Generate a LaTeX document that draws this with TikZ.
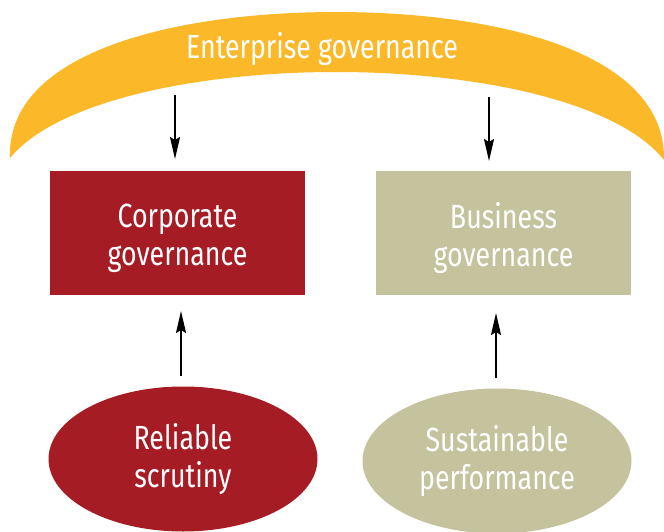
\documentclass[tikz,border=0pt]{standalone}
\usepackage{fontspec}
\setmainfont{Fira Sans}[FakeStretch=0.8]
\usetikzlibrary{shapes.geometric,arrows.meta}
\definecolor{egold}{HTML}{FBB829}
\definecolor{cred}{HTML}{A51C24}
\definecolor{khaki}{HTML}{C4C39D}
\tikzset{
  lbl/.style={text=white,font=\fontsize{33.5}{38}\selectfont,align=center},
  boxnode/.style={rectangle,minimum width=255pt,minimum height=124pt,inner sep=0pt},
  ovalnode/.style={lbl,ellipse,minimum width=269pt,minimum height=145pt,inner sep=0pt},
  arr/.style={line width=1.8pt,-{Stealth[length=22pt,width=10pt,inset=3pt]}}
}
\begin{document}
\begin{tikzpicture}[x=1pt,y=-1pt]
\useasboundingbox (0,0) rectangle (664,532);
% arc
\fill[egold] (10,158) .. controls (6,50) and (180,12) .. (336,12)
  .. controls (492,12) and (666,50) .. (664,160)
  .. controls (616,100) and (472,72) .. (336,72)
  .. controls (200,72) and (58,100) .. (10,158) -- cycle;
\node[lbl] (ent) at (322,49) {Enterprise governance};
\node[boxnode,fill=cred] (corp) at (177.5,233) {};
\node[lbl] (corpt) at ([yshift=-5pt]corp.center) {Corporate\\governance};
\node[boxnode,fill=khaki] (bus) at (503.5,233) {};
\node[lbl] (bust) at ([yshift=-5pt]bus.center) {Business\\governance};
\node[ovalnode,fill=cred] (rel) at (183,459) {Reliable\\scrutiny};
\node[ovalnode,fill=khaki] (sus) at (497,461) {Sustainable\\performance};
\coordinate (a1s) at (175,95);
\coordinate (a1e) at (175,159);
\coordinate (a2s) at (489,97);
\coordinate (a2e) at (489,161);
\coordinate (b1s) at (181,376);
\coordinate (b1e) at (181,311);
\coordinate (b2s) at (496,378);
\coordinate (b2e) at (496,313);
\draw[arr] (a1s) -- (a1e);
\draw[arr] (a2s) -- (a2e);
\draw[arr] (b1s) -- (b1e);
\draw[arr] (b2s) -- (b2e);
\end{tikzpicture}
\end{document}
